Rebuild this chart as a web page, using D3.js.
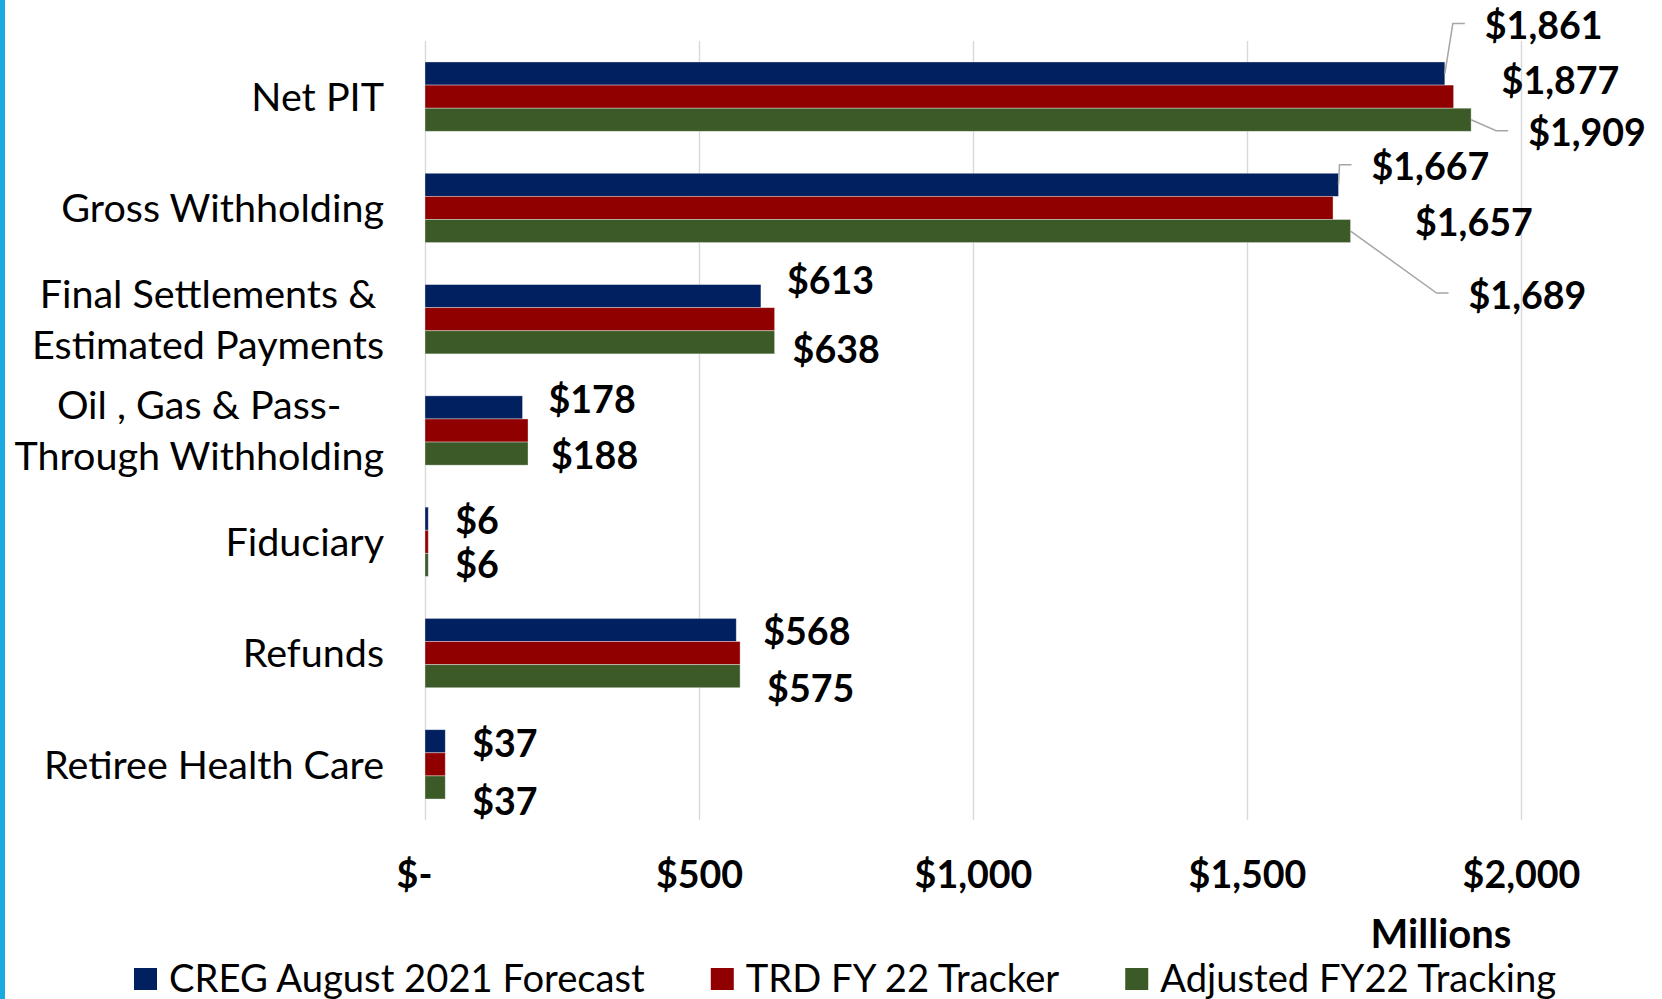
<!DOCTYPE html>
<html>
<head>
<meta charset="utf-8">
<script src="https://cdn.jsdelivr.net/npm/d3@7"></script>
<style>
  html, body { margin: 0; padding: 0; background: #ffffff; }
  svg { display: block; }
  text { font-family: Lato, "Open Sans", sans-serif; fill: #000; }
</style>
</head>
<body>
<svg id="chart" width="1662" height="999"></svg>
<script>
// ---------------- DATA ----------------
const categories = [
  "Net PIT",
  "Gross Withholding",
  "Final Settlements & Estimated Payments",
  "Oil , Gas & Pass-Through Withholding",
  "Fiduciary",
  "Refunds",
  "Retiree Health Care"
];
const categoryLines = [
  ["Net PIT"],
  ["Gross Withholding"],
  ["Final Settlements &", "Estimated Payments"],
  ["Oil , Gas & Pass-", "Through Withholding"],
  ["Fiduciary"],
  ["Refunds"],
  ["Retiree Health Care"]
];
const seriesNames = ["CREG August 2021 Forecast", "TRD FY 22 Tracker", "Adjusted FY22 Tracking"];
const cregForecast = [1861, 1667, 613, 178, 6, 568, 37];
const trdTracker   = [1877, 1657, 638, 188, 6, 575, 37];
const adjTracking  = [1909, 1689, 638, 188, 6, 575, 37];
const tickValues = [0, 500, 1000, 1500, 2000];
const tickLabels = ["$-", "$500", "$1,000", "$1,500", "$2,000"];
const axisUnit = "Millions";

// ---------------- LAYOUT / STYLE ----------------
const seriesColors = ["#002060", "#900000", "#3C5A27"];
const W = 1662, H = 999;
const plot = { left: 425, right: 1521, top: 41, bottom: 820 };
const fs = { cat: 39.5, label: 37.6, tick: 37.6, unit: 40, legend: 38.2 };
const capRatio = 0.7165;
// data-label placement nudges (pixels from bar end / bar centre), as moved in the original
const labelPlacement = [
  { s: 0, c: 0, dx: 40, dy: -48, leader: true },
  { s: 1, c: 0, dx: 48, dy: -16 },
  { s: 2, c: 0, dx: 57, dy: 13, leader: true },
  { s: 0, c: 1, dx: 33, dy: -18, leader: true },
  { s: 1, c: 1, dx: 82, dy: 15 },
  { s: 2, c: 1, dx: 118, dy: 64, leader: true },
  { s: 0, c: 2, dx: 26, dy: -16 },
  { s: 2, c: 2, dx: 18, dy: 7 },
  { s: 0, c: 3, dx: 26, dy: -8 },
  { s: 2, c: 3, dx: 23, dy: 2 },
  { s: 0, c: 4, dx: 27, dy: 1.5 },
  { s: 2, c: 4, dx: 27, dy: 0 },
  { s: 0, c: 5, dx: 27, dy: 1.5 },
  { s: 2, c: 5, dx: 27, dy: 12 },
  { s: 0, c: 6, dx: 27, dy: 2 },
  { s: 2, c: 6, dx: 27, dy: 14 }
];

const seriesValues = [cregForecast, trdTracker, adjTracking];

const svg = d3.select("#chart");
svg.append("rect").attr("width", W).attr("height", H).attr("fill", "#fff");
// left accent stripe
svg.append("rect").attr("x", 0).attr("y", 0).attr("width", 5).attr("height", H).attr("fill", "#1CA9E1");

const x = d3.scaleLinear().domain([0, 2000]).range([plot.left, plot.right]);
const y = d3.scaleBand().domain(categories).range([plot.top, plot.bottom])
  .paddingInner(0.377).paddingOuter(0.1885);
const ys = d3.scaleBand().domain([0, 1, 2]).range([0, y.bandwidth()]);

// axis + gridlines
const axis = d3.axisBottom(x)
  .tickValues(tickValues)
  .tickSize(-(plot.bottom - plot.top))
  .tickFormat((d, i) => tickLabels[i]);
const gAxis = svg.append("g").attr("transform", `translate(0,${plot.bottom})`).call(axis);
gAxis.select(".domain").remove();
gAxis.selectAll(".tick line").attr("stroke", "#D9D9D9").attr("stroke-width", 1.4);
gAxis.selectAll(".tick text")
  .attr("y", 68).attr("dy", 0)
  .attr("dx", (d, i) => i === 0 ? -11 : 0)
  .style("font-family", "Lato, sans-serif")
  .style("font-weight", "bold")
  .style("font-size", fs.tick + "px")
  .attr("fill", "#000");

// bars
const rows = categories.map((c, ci) => ({ c, ci }));
const groups = svg.append("g").selectAll("g").data(rows).join("g")
  .attr("transform", d => `translate(0,${y(d.c)})`);
groups.selectAll("rect")
  .data(d => seriesValues.map((vals, si) => ({ si, v: vals[d.ci] })))
  .join("rect")
  .attr("x", x(0))
  .attr("y", d => ys(d.si))
  .attr("width", d => x(d.v) - x(0))
  .attr("height", ys.bandwidth())
  .attr("fill", d => seriesColors[d.si])
  .attr("stroke", "#ffffff")
  .attr("stroke-opacity", 0.45)
  .attr("stroke-width", 0.8);

// category labels
const catG = svg.append("g");
rows.forEach(d => {
  const lines = categoryLines[d.ci];
  const cy = y(d.c) + y.bandwidth() / 2;
  const lh = 51;
  const g = catG.append("g");
  const texts = lines.map((ln, k) => g.append("text")
    .text(ln)
    .style("font-size", fs.cat + "px")
    .attr("y", cy - (lines.length - 1) * lh / 2 + k * lh + fs.cat * capRatio / 2));
  const widths = texts.map(t => t.node().getComputedTextLength());
  const maxW = d3.max(widths);
  const rightEdge = 384;
  texts.forEach(t => t.attr("text-anchor", "middle").attr("x", rightEdge - maxW / 2));
});

// data labels + leader lines
const lblG = svg.append("g");
labelPlacement.forEach(p => {
  const v = seriesValues[p.s][p.c];
  const xEnd = x(v);
  const yc = y(categories[p.c]) + ys(p.s) + ys.bandwidth() / 2;
  const lx = xEnd + p.dx;
  const ly = yc + p.dy;
  if (p.leader) {
    lblG.append("polyline")
      .attr("points", [[xEnd, yc], [lx - 32, ly - 2], [lx - 20, ly - 2]].map(q => q.join(",")).join(" "))
      .attr("fill", "none")
      .attr("stroke", "#A6A6A6")
      .attr("stroke-width", 1.5);
  }
  lblG.append("text")
    .attr("x", lx)
    .attr("y", ly + fs.label * capRatio / 2)
    .style("font-weight", "bold")
    .style("font-size", fs.label + "px")
    .text("$" + d3.format(",")(v));
});

// unit label
svg.append("text")
  .attr("x", 1441).attr("y", 948)
  .attr("text-anchor", "middle")
  .style("font-weight", "bold")
  .style("font-size", fs.unit + "px")
  .text(axisUnit);

// legend
const legG = svg.append("g");
let lx = 134;
seriesNames.forEach((name, i) => {
  legG.append("rect").attr("x", lx).attr("y", 968).attr("width", 23).attr("height", 22)
    .attr("fill", seriesColors[i]);
  const t = legG.append("text").attr("x", lx + 35).attr("y", 992)
    .style("font-size", fs.legend + "px").text(name);
  lx = lx + 35 + t.node().getComputedTextLength() + 66;
});
</script>
</body>
</html>
